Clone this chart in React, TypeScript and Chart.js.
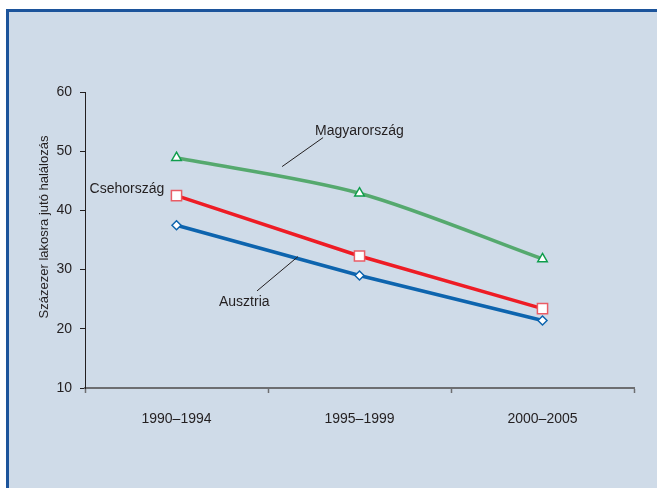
import React, { useEffect, useRef } from 'react';
import { Chart, registerables } from 'chart.js';

Chart.register(...registerables);

const categories = ['1990–1994', '1995–1999', '2000–2005'];
const magyarorszag = [48.9, 42.9, 31.8];
const csehorszag = [42.5, 32.3, 23.4];
const ausztria = [37.5, 29.0, 21.4];
const yMin = 10;
const yMax = 60;
const yStep = 10;
const yTitle = 'Százezer lakosra jutó halálozás';

// annotation labels: text anchor in data units (category index, value)
const labelTexts = ['Magyarország', 'Csehország', 'Ausztria'];
const labelIdx = [0.757, -0.475, 0.232];
const labelVal = [52.8, 43.0, 23.9];
// leader lines (category index / value pairs), null when none
const leaderFrom = [[0.801, 52.3], null, [0.664, 32.2]];
const leaderTo = [[0.577, 47.4], null, [0.44, 26.4]];

const FONT = 'Liberation Sans, Arial, sans-serif';
const TEXT = '#231f20';

const annotationPlugin = {
  id: 'annotations',
  afterDatasetsDraw(chart: any) {
    const { ctx, scales } = chart;
    const xs = scales.x;
    const ys = scales.y;
    ctx.save();
    ctx.fillStyle = TEXT;
    ctx.strokeStyle = TEXT;
    ctx.lineWidth = 1;
    ctx.font = `14px ${FONT}`;
    ctx.textAlign = 'left';
    ctx.textBaseline = 'alphabetic';
    labelTexts.forEach((t, i) => {
      ctx.fillText(t, xs.getPixelForValue(labelIdx[i]), ys.getPixelForValue(labelVal[i]));
      const f = leaderFrom[i];
      const to = leaderTo[i];
      if (f && to) {
        ctx.beginPath();
        ctx.moveTo(xs.getPixelForValue(f[0]), ys.getPixelForValue(f[1]));
        ctx.lineTo(xs.getPixelForValue(to[0]), ys.getPixelForValue(to[1]));
        ctx.stroke();
      }
    });
    // y axis title
    const ca = chart.chartArea;
    ctx.font = `13px ${FONT}`;
    ctx.translate(44, (ca.top + ca.bottom) / 2 - 13);
    ctx.rotate(-Math.PI / 2);
    ctx.textAlign = 'center';
    ctx.textBaseline = 'middle';
    ctx.fillText(yTitle, 0, 0);
    ctx.restore();
  },
};

export default function App() {
  const ref = useRef<HTMLCanvasElement>(null);
  useEffect(() => {
    if (!ref.current) return;
    const chart = new Chart(ref.current, {
      type: 'line',
      data: {
        labels: categories,
        datasets: [
          {
            label: 'Magyarország',
            data: magyarorszag,
            borderColor: '#55a96e',
            borderWidth: 3.5,
            tension: 0.3,
            pointStyle: 'triangle',
            pointRadius: 5.5,
            pointBorderColor: '#0f9d4c',
            pointBackgroundColor: '#ffffff',
            pointBorderWidth: 1.5,
          },
          {
            label: 'Csehország',
            data: csehorszag,
            borderColor: '#ee1c25',
            borderWidth: 3.5,
            tension: 0,
            pointStyle: 'rect',
            pointRadius: 7.2,
            pointBorderColor: '#ea5c65',
            pointBackgroundColor: '#ffffff',
            pointBorderWidth: 1.5,
          },
          {
            label: 'Ausztria',
            data: ausztria,
            borderColor: '#0d64ae',
            borderWidth: 3.5,
            tension: 0,
            pointStyle: 'rectRot',
            pointRadius: 4.5,
            pointBorderColor: '#0d64ae',
            pointBackgroundColor: '#ffffff',
            pointBorderWidth: 1.5,
          },
        ],
      },
      options: {
        responsive: false,
        animation: false,
        events: [],
        layout: { padding: { top: 92, right: 23, bottom: 0, left: 0 } },
        plugins: {
          legend: { display: false },
          tooltip: { enabled: false },
          title: { display: false },
        },
        scales: {
          x: {
            offset: true,
            grid: {
              offset: true,
              drawOnChartArea: false,
              drawTicks: true,
              tickLength: 5,
              tickColor: '#6d6e71',
              tickWidth: 1.5,
            },
            border: { color: '#6d6e71', width: 2 },
            ticks: {
              color: TEXT,
              font: { family: FONT, size: 14 },
              padding: 18,
              maxRotation: 0,
            },
            afterFit: (s: any) => {
              s.height = 100;
            },
          },
          y: {
            min: yMin,
            max: yMax,
            grid: {
              drawOnChartArea: false,
              drawTicks: true,
              tickLength: 5,
              tickColor: '#231f20',
              tickWidth: 1,
            },
            border: { color: '#231f20', width: 1 },
            ticks: {
              stepSize: yStep,
              color: TEXT,
              font: { family: FONT, size: 14 },
              padding: 8,
            },
            afterFit: (s: any) => {
              s.width = 85;
            },
          },
        },
      },
      plugins: [annotationPlugin],
    });
    return () => chart.destroy();
  }, []);

  return (
    <div
      style={{
        position: 'fixed',
        left: 0,
        top: 0,
        width: 657,
        height: 488,
        background: '#ffffff',
        overflow: 'hidden',
      }}
    >
      <div
        style={{
          position: 'absolute',
          left: 6,
          top: 9,
          width: 700,
          height: 520,
          background: '#cfdbe8',
          borderLeft: '3px solid #1c549b',
          borderTop: '3px solid #1c549b',
        }}
      />
      <canvas
        ref={ref}
        width={657}
        height={488}
        style={{ position: 'absolute', left: 0, top: 0, width: 657, height: 488 }}
      />
    </div>
  );
}
